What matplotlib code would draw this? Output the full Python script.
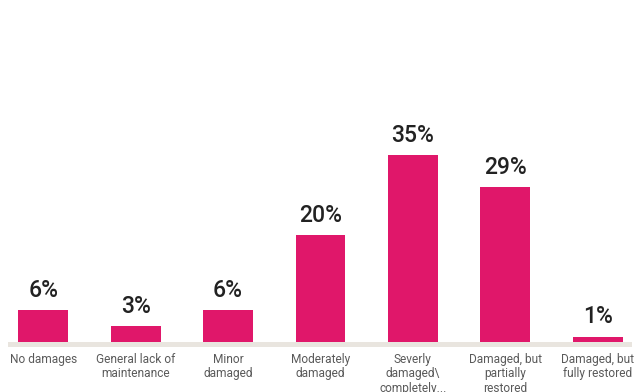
import matplotlib
matplotlib.use("Agg")
import matplotlib.pyplot as plt

categories = ["No damages", "General lack of\nmaintenance", "Minor\ndamaged",
              "Moderately\ndamaged", "Severly\ndamaged\\\ncompletely...",
              "Damaged, but\npartially\nrestored", "Damaged, but\nfully restored"]
shares = [6, 3, 6, 20, 35, 29, 1]

plt.rcParams['font.family'] = ['Roboto', 'DejaVu Sans']

fig = plt.figure(figsize=(6.34, 3.92), dpi=100)
ax = fig.add_axes([8/634, 45/392, 624/634, 347/392])  # band bottom at 347px

x = range(len(shares))
ax.bar(x, shares, width=0.54, color='#E0176A', zorder=2)
ax.axhspan(-0.94, 0, color='#E9E5DF', zorder=3, lw=0)
for i, v in enumerate(shares):
    ax.annotate(f"{v}%", (i, v), xytext=(0, 6), textcoords='offset points',
                ha='center', va='bottom', fontsize=16.5, color='#222222',
                fontweight='medium')

ax.set_xlim(-0.38, 6.37)
ax.set_ylim(-0.94, 64.1)
ax.set_xticks(list(x))
ax.set_xticklabels(categories, fontsize=8.6, color='#5a5a5a', linespacing=1.15)
ax.tick_params(axis='x', length=0, pad=4)
ax.set_yticks([])
for s in ax.spines.values():
    s.set_visible(False)

fig.savefig("out.png", dpi=100)
